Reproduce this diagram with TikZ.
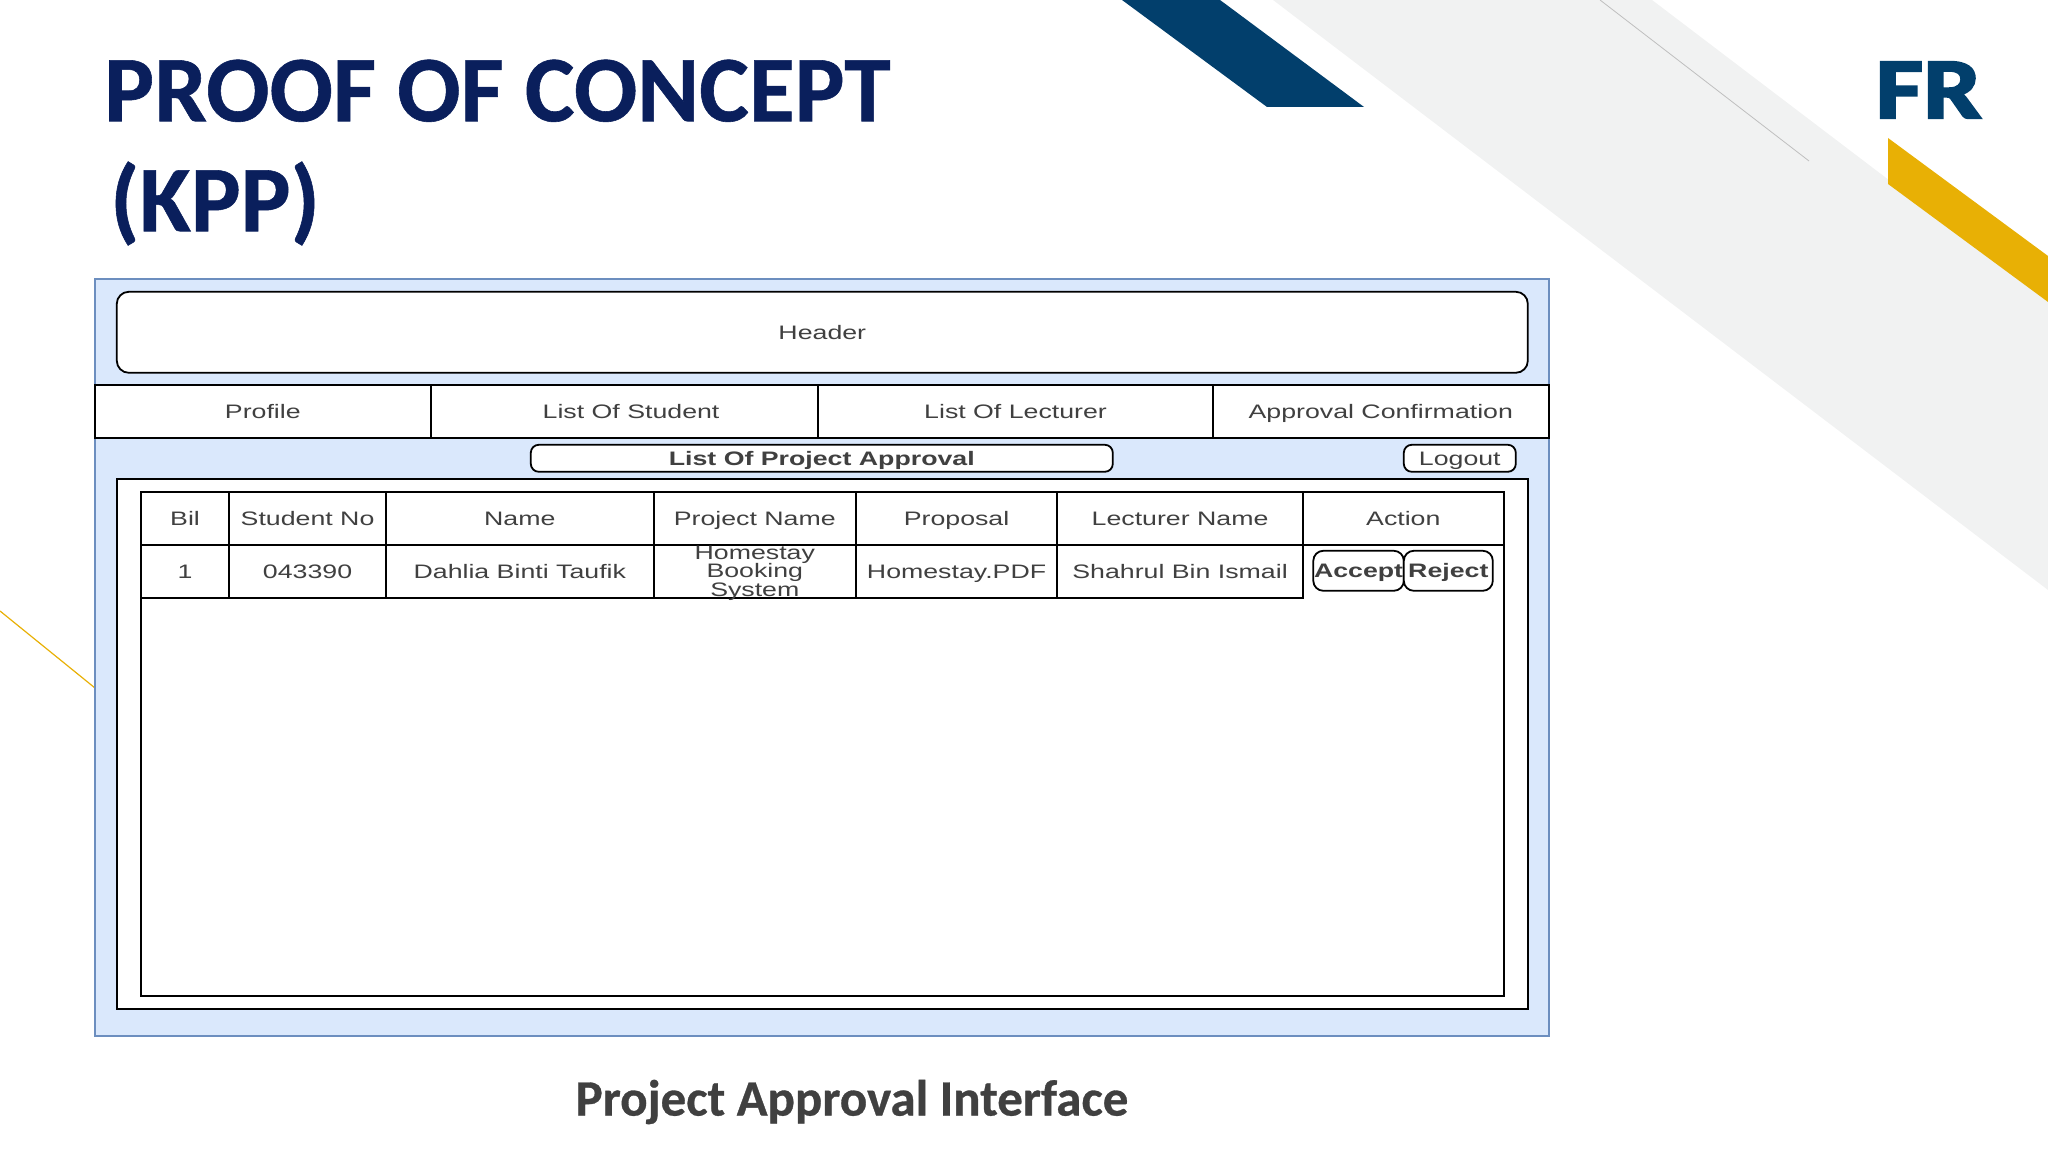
\documentclass[tikz,border=0pt]{standalone}
\usepackage{fontspec}
\setmainfont[BoldFeatures={FakeBold=0.6}]{Carlito}
\newfontfamily\uifont[FakeStretch=1.37]{Liberation Sans}
\newfontfamily\logofont[FakeStretch=1.2,FakeBold=3]{Carlito Bold}
\definecolor{navyTitle}{HTML}{0A1F5C}
\definecolor{logoBlue}{HTML}{023F6C}
\definecolor{logoGold}{HTML}{E8B005}
\definecolor{bandGrey}{HTML}{F1F2F2}
\definecolor{panelFill}{HTML}{DAE8FC}
\definecolor{panelLine}{HTML}{6C8EBF}
\definecolor{captionGrey}{HTML}{404040}
\tikzset{
    cell/.style 2 args={draw=black, fill=white, line width=0.18mm, inner sep=0pt, outer sep=0pt, anchor=north west,
        minimum width=#1*0.1mm, minimum height=#2*0.1mm, text=black!75, text height=4pt, text depth=0pt,
        font=\uifont\fontsize{5.55}{5.2}\selectfont},
    btn/.style={rounded corners=0.8mm},
    strong/.style={font=\uifont\bfseries\fontsize{5.55}{5.2}\selectfont},
}
\begin{document}
\begin{tikzpicture}[x=0.1mm, y=-0.1mm]
    \useasboundingbox (0,0) rectangle (2048,1152);
    % slide background shapes
    \fill[bandGrey] (1273,0) -- (1652,0) -- (2048,301) -- (2048,590) -- cycle;
    \draw[black!25, line width=0.08mm] (1600,0) -- (1809,161);
    \fill[logoBlue] (1122,0) -- (1220,0) -- (1364,107) -- (1267,107) -- cycle;
    \fill[logoGold] (1888,138) -- (2048,256) -- (2048,302) -- (1888,184) -- cycle;
    \draw[logoGold, line width=0.12mm] (0,611) -- (95,688);
    % slide texts
    \node[anchor=north west, inner sep=0pt, align=left, text=navyTitle,
        font=\bfseries\fontsize{26.7}{31.3}\selectfont] (title) at (103.5,59) {PROOF OF CONCEPT\\\kern1.7pt(KPP)};
    \node[inner sep=0pt, text=logoBlue, font=\logofont\fontsize{24.5}{24.5}\selectfont] (logo) at (1928.5,90) {FR};
    \node[inner sep=0pt, text=captionGrey, font=\bfseries\fontsize{14.5}{16}\selectfont] (caption) at (852,1102) {Project Approval Interface};
    % mockup
    \begin{scope}[shift={(0.8,0.8)}]
    \node[cell={1454}{757}, draw=panelLine, fill=panelFill] (panel) at (94,278) {};
    \node[cell={1411}{81}, rounded corners=1.2mm] (header) at (116,291) {Header};
    \node[cell={336}{53.5}] (profile) at (94,384) {Profile};
    \node[cell={387.5}{53.5}] (students) at (430,384) {\kern1.3mm List Of Student};
    \node[cell={394.5}{53.5}] (lecturers) at (817.5,384) {List Of Lecturer};
    \node[cell={336}{53.5}] (confirm) at (1212,384) {Approval Confirmation};
    \node[cell={582}{27}, btn, strong] (listing) at (530,444) {List Of Project Approval};
    \node[cell={112}{27}, btn] (logout) at (1403,444) {Logout};
    \node[cell={1411}{530}, line width=0.22mm] (content) at (116,478) {};
    \node[cell={1363}{504}] (tbl) at (140,491) {};
    % table columns: x, width, name, head, value
    \foreach \x/\w/\nm/\head/\val in {
        140/88.5/bil/Bil/1,
        228.5/156.5/stud/Student No/043390,
        385/268/name/Name/Dahlia Binti Taufik,
        653/202/proj/Project Name/{},
        855/201.5/prop/Proposal/Homestay.PDF,
        1056.5/245.5/lect/Lecturer Name/Shahrul Bin Ismail}{
        \node[cell={\w}{53}] (\nm head) at (\x,491) {\head};
        \node[cell={\w}{53.5}] (\nm row) at (\x,544) {\val};
    }
    \node[inner sep=0pt, align=center, text=black!75, yshift=-0.5pt, font=\uifont\fontsize{5.55}{5.2}\selectfont] (projtext) at (projrow) {Homestay\\Booking\\System};
    \node[cell={201}{53}] (action) at (1302,491) {Action};
    \node[cell={90.5}{40}, rounded corners=1mm, strong] (accept) at (1312.5,550) {Accept};
    \node[cell={89}{40}, rounded corners=1mm, strong] (reject) at (1403,550) {Reject};
    \end{scope}
\end{tikzpicture}
\end{document}
